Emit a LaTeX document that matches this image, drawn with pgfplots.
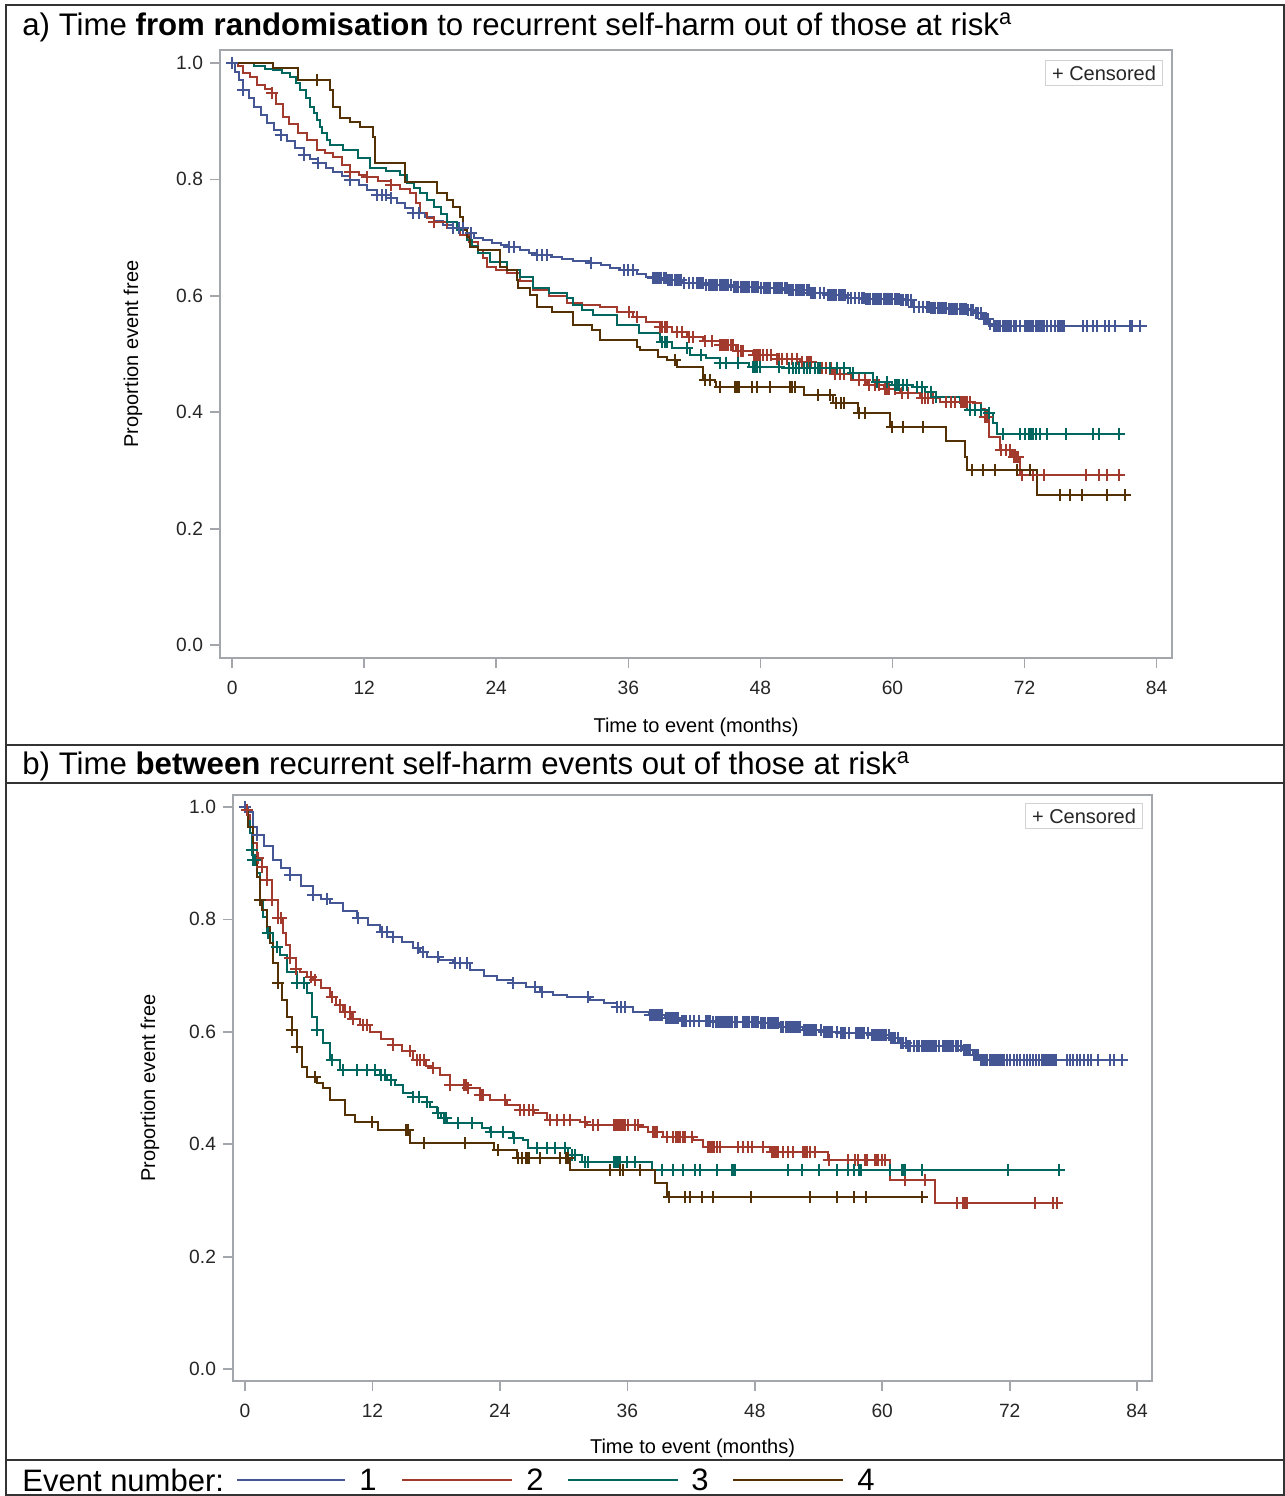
\documentclass[border=0pt]{standalone}
\usepackage{fontspec}
\setmainfont{Liberation Sans}
\usepackage{pgfplots}
\pgfplotsset{compat=1.18}
\definecolor{c1}{HTML}{445694}
\definecolor{c2}{HTML}{A23A2E}
\definecolor{c3}{HTML}{01665E}
\definecolor{c4}{HTML}{543005}
\definecolor{axgray}{HTML}{A3A6AA}
\pgfplotsset{
  kmaxis/.style={
    scale only axis,
    axis line style={axgray, line width=0.9pt},
    xtick={0,12,24,36,48,60,72,84},
    ytick={0,0.2,0.4,0.6,0.8,1.0},
    tick align=outside, xtick pos=bottom, ytick pos=left,
    major tick length=5pt,
    tick style={axgray, line width=0.8pt},
    xticklabel shift=3pt,
    /pgf/number format/assume math mode=true,
    yticklabel style={/pgf/number format/.cd, fixed, fixed zerofill, precision=1},
    tick label style={font=\fontsize{9.6}{11}\selectfont, text=black!85},
    label style={font=\fontsize{10.6}{12}\selectfont, text=black!85},
    xlabel={Time to event (months)},
    ylabel={Proportion event free},
  },
  km/.style={const plot, line width=1pt, no marks},
  cens/.style={only marks, mark=+, mark size=3pt, mark options={line width=1pt}},
}
\begin{document}
\begin{tikzpicture}
\useasboundingbox (0,0) rectangle (642.5pt,-748pt);
% ---------------- panel a ----------------
\begin{axis}[kmaxis, at={(110pt,-329pt)}, anchor=south west,
  width=476pt, height=304pt,
  xmin=-1.1, xmax=85.4, ymin=-0.022, ymax=1.022,
  every axis y label/.style={at={(axis description cs:-0.0914,0.5)}, rotate=90, anchor=center},
  every axis x label/.style={at={(axis description cs:0.5,-0.1135)}, anchor=center}]
% event 1
\addplot[km, c1] coordinates {(0,1) (0.3,0.985) (0.6,0.97) (1.0,0.954) (1.5,0.94) (2.0,0.925) (2.6,0.91) (3.2,0.897) (3.8,0.885) (4.4,0.876) (5.0,0.865) (5.7,0.853) (6.5,0.842) (7.1,0.835) (7.8,0.828) (8.5,0.82) (9.2,0.812) (10.0,0.805) (10.7,0.799) (11.5,0.79) (12.3,0.781) (13.2,0.773) (14.4,0.768) (15.0,0.76) (15.7,0.75) (16.4,0.742) (17.5,0.735) (18.3,0.728) (19.2,0.722) (20.1,0.716) (21.3,0.708) (22.0,0.7) (22.8,0.695) (23.6,0.69) (24.4,0.687) (25.2,0.684) (26.2,0.678) (27.0,0.673) (27.7,0.67) (29.0,0.666) (30.0,0.663) (31.0,0.66) (32.5,0.656) (33.5,0.652) (34.3,0.648) (35.2,0.644) (36.8,0.638) (37.6,0.633) (38.2,0.631) (39.5,0.627) (41.0,0.622) (43.0,0.619) (45.5,0.615) (48.0,0.614) (49.1,0.613) (50.5,0.61) (52.5,0.605) (54.0,0.601) (55.9,0.596) (57.5,0.595) (59.5,0.594) (60.7,0.593) (61.9,0.581) (63.5,0.579) (65.0,0.578) (66.8,0.576) (67.5,0.57) (68.2,0.56) (68.8,0.552) (69.1,0.548) (83.1,0.548)};
\addplot[cens, c1] coordinates {(0,1) (1.0,0.954) (4.4,0.876) (6.5,0.842) (7.8,0.828) (10.7,0.799) (13.2,0.773) (13.6,0.773) (14.0,0.773) (14.4,0.768) (16.4,0.742) (17.0,0.742) (20.1,0.716) (20.6,0.716) (21.0,0.716) (21.7,0.708) (25.2,0.684) (25.6,0.684) (27.7,0.67) (28.2,0.67) (28.6,0.67) (32.6,0.656) (35.6,0.644) (36.0,0.644) (36.4,0.644)
(38.2,0.631) (38.4,0.631) (38.6,0.631) (38.8,0.631) (39.0,0.631) (39.2,0.631) (39.4,0.631)
(39.6,0.627) (39.8,0.627) (40.0,0.627) (40.2,0.627) (40.4,0.627) (40.6,0.627) (40.8,0.627)
(41.1,0.622) (41.5,0.622) (41.9,0.622) (42.2,0.622) (42.4,0.622) (42.6,0.622) (42.8,0.622)
(43.1,0.619) (43.3,0.619) (43.5,0.619) (43.7,0.619) (43.9,0.619) (44.1,0.619) (44.3,0.619) (44.5,0.619) (44.7,0.619) (44.9,0.619) (45.1,0.619) (45.3,0.619)
(45.6,0.615) (45.8,0.615) (46.0,0.615) (46.2,0.615) (46.4,0.615) (46.6,0.615) (46.8,0.615) (47.0,0.615) (47.2,0.615) (47.4,0.615) (47.6,0.615) (47.8,0.615)
(48.1,0.614) (48.3,0.614) (48.5,0.614) (48.7,0.614) (48.9,0.614)
(49.2,0.613) (49.4,0.613) (49.6,0.613) (49.8,0.613) (50.0,0.613) (50.2,0.613) (50.4,0.613)
(50.6,0.61) (50.8,0.61) (51.0,0.61) (51.2,0.61) (51.4,0.61) (51.6,0.61) (51.8,0.61) (52.0,0.61) (52.2,0.61) (52.4,0.61)
(52.6,0.605) (52.8,0.605) (53.0,0.605) (53.4,0.605) (53.8,0.605)
(54.1,0.601) (54.3,0.601) (54.5,0.601) (54.7,0.601) (54.9,0.601) (55.1,0.601) (55.3,0.601) (55.5,0.601) (55.7,0.601)
(56.0,0.596) (56.2,0.596) (56.6,0.596) (57.0,0.596) (57.2,0.596) (57.4,0.596)
(57.6,0.595) (57.8,0.595) (58.0,0.595) (58.2,0.595) (58.4,0.595) (58.6,0.595) (58.8,0.595) (59.0,0.595) (59.2,0.595) (59.4,0.595)
(59.6,0.594) (59.8,0.594) (60.0,0.594) (60.2,0.594) (60.4,0.594) (60.6,0.594)
(60.8,0.593) (61.0,0.593) (61.2,0.593) (61.4,0.593) (61.7,0.593)
(62.0,0.581) (62.4,0.581) (62.8,0.581) (63.1,0.581) (63.3,0.581)
(63.5,0.579) (63.7,0.579) (63.9,0.579) (64.1,0.579) (64.3,0.579) (64.5,0.579) (64.7,0.579) (64.9,0.579)
(65.1,0.578) (65.3,0.578) (65.5,0.578) (65.7,0.578) (65.9,0.578) (66.1,0.578) (66.3,0.578) (66.5,0.578) (66.7,0.578)
(66.9,0.576) (67.1,0.576) (67.3,0.576) (67.6,0.57) (67.8,0.57) (68.0,0.57) (68.3,0.56) (68.5,0.56) (68.7,0.56) (68.9,0.552)
(69.2,0.548) (69.4,0.548) (69.6,0.548) (69.8,0.548) (70.0,0.548) (70.2,0.548) (70.4,0.548) (70.6,0.548) (70.8,0.548) (71.0,0.548) (71.2,0.548) (71.6,0.548) (72.0,0.548) (72.2,0.548) (72.4,0.548) (72.6,0.548) (72.8,0.548) (73.0,0.548) (73.2,0.548) (73.4,0.548) (73.6,0.548) (73.8,0.548) (74.0,0.548) (74.4,0.548) (74.8,0.548) (75.0,0.548) (75.2,0.548) (75.4,0.548) (75.6,0.548) (77.3,0.548) (77.7,0.548) (78.2,0.548) (78.6,0.548) (79.3,0.548) (79.7,0.548) (80.2,0.548) (81.6,0.548) (81.8,0.548) (82.5,0.548)};
% event 2
\addplot[km, c2] coordinates {(0,1) (0.5,0.995) (1.0,0.983) (1.6,0.975) (2.3,0.962) (3.0,0.955) (3.6,0.948) (4.0,0.93) (4.6,0.907) (5.2,0.895) (6.0,0.88) (6.8,0.868) (7.7,0.851) (8.4,0.845) (9.2,0.838) (10.0,0.825) (10.7,0.813) (11.5,0.808) (12.3,0.804) (13.3,0.797) (14.4,0.79) (15.3,0.784) (16.2,0.777) (16.7,0.76) (17.1,0.742) (17.7,0.734) (18.3,0.727) (19.5,0.716) (20.7,0.704) (21.5,0.692) (22.3,0.679) (22.8,0.665) (23.2,0.65) (24.0,0.645) (25.0,0.639) (26.2,0.625) (27.3,0.61) (28.8,0.6) (30.4,0.588) (31.8,0.585) (33.4,0.581) (35.0,0.572) (36.4,0.564) (37.6,0.555) (38.9,0.546) (40.0,0.537) (41.3,0.529) (42.8,0.522) (44.3,0.515) (45.8,0.506) (47.3,0.498) (49.5,0.492) (51.6,0.486) (53.0,0.476) (54.6,0.466) (56.2,0.456) (57.7,0.447) (59.2,0.44) (60.7,0.433) (62.5,0.425) (64.3,0.418) (67.3,0.416) (68.0,0.405) (68.4,0.392) (68.8,0.357) (69.8,0.335) (70.9,0.323) (71.6,0.292) (80.9,0.292)};
\addplot[cens, c2] coordinates {(3.6,0.948) (10.7,0.813) (12.3,0.804) (14.4,0.79) (18.3,0.727) (36.1,0.572) (36.8,0.564) (38.9,0.546) (39.1,0.546) (39.3,0.546) (39.5,0.546) (40.4,0.537) (40.9,0.537) (41.5,0.529) (41.9,0.529) (43.0,0.522) (43.6,0.522) (44.3,0.515) (44.5,0.515) (44.7,0.515) (44.9,0.515) (45.1,0.515) (45.3,0.515) (45.5,0.515) (46.0,0.506) (46.2,0.506) (46.4,0.506) (47.4,0.498) (47.6,0.498) (47.8,0.498) (48.0,0.498) (48.2,0.498) (48.6,0.498) (49.0,0.498) (49.5,0.492) (49.7,0.492) (50.0,0.492) (50.4,0.492) (50.9,0.492) (51.3,0.492) (51.8,0.486) (52.2,0.486) (52.4,0.486) (52.6,0.486) (53.2,0.476) (53.4,0.476) (53.6,0.476) (54.0,0.476) (54.4,0.476) (54.8,0.466) (55.2,0.466) (55.6,0.466) (57.0,0.456) (57.5,0.456) (57.9,0.447) (58.4,0.447) (58.8,0.447) (59.3,0.44) (59.5,0.44) (59.7,0.44) (60.2,0.44) (60.9,0.433) (61.4,0.433) (62.7,0.425) (63.0,0.425) (63.2,0.425) (63.7,0.425) (64.9,0.418) (65.3,0.418) (65.7,0.418) (66.2,0.418) (66.4,0.418) (66.6,0.418) (66.8,0.418) (67.0,0.418) (68.4,0.392) (68.6,0.392) (69.9,0.335) (70.3,0.335) (70.7,0.335) (71.0,0.323) (71.2,0.323) (71.4,0.323) (71.8,0.292) (72.8,0.292) (73.8,0.292) (77.6,0.292) (78.8,0.292) (79.5,0.292) (80.6,0.292)};
% event 3
\addplot[km, c3] coordinates {(0,1) (2.0,0.994) (3.0,0.99) (3.7,0.988) (4.5,0.982) (5.3,0.976) (5.8,0.965) (6.2,0.954) (6.7,0.94) (7.1,0.924) (7.4,0.913) (7.7,0.902) (8.0,0.89) (8.2,0.88) (8.6,0.868) (8.9,0.859) (10.1,0.851) (11.4,0.837) (12.5,0.82) (14.0,0.814) (15.3,0.808) (15.9,0.794) (16.5,0.785) (17.1,0.777) (17.7,0.765) (18.3,0.753) (19.0,0.74) (19.5,0.727) (20.4,0.713) (21.3,0.696) (21.8,0.685) (22.3,0.674) (23.4,0.658) (25.0,0.644) (26.2,0.632) (27.3,0.613) (28.8,0.604) (30.4,0.596) (31.0,0.585) (31.8,0.576) (32.8,0.567) (35.0,0.55) (37.0,0.536) (38.9,0.521) (40.0,0.51) (41.6,0.498) (43.1,0.493) (44.3,0.485) (47.0,0.478) (50.0,0.476) (53.5,0.476) (56.1,0.467) (58.2,0.452) (60.0,0.447) (61.9,0.443) (63.0,0.435) (64.0,0.426) (66.1,0.416) (66.8,0.404) (68.6,0.399) (69.1,0.381) (69.5,0.363) (80.9,0.363)};
\addplot[cens, c3] coordinates {(39.1,0.521) (39.3,0.521) (39.5,0.521) (41.3,0.51) (42.6,0.498) (44.3,0.485) (44.9,0.485) (46.0,0.485) (47.3,0.478) (47.5,0.478) (47.7,0.478) (48.0,0.478) (49.7,0.478) (50.6,0.476) (51.0,0.476) (51.2,0.476) (51.5,0.476) (52.0,0.476) (52.2,0.476) (52.5,0.476) (53.0,0.476) (53.2,0.476) (53.4,0.476) (54.3,0.476) (55.0,0.476) (55.6,0.476) (56.4,0.467) (58.6,0.452) (59.5,0.452) (60.2,0.447) (60.4,0.447) (60.6,0.447) (61.0,0.447) (61.3,0.447) (62.2,0.443) (62.7,0.443) (63.5,0.435) (64.0,0.426) (67.0,0.404) (67.5,0.404) (68.0,0.404) (68.8,0.399) (70.0,0.363) (71.6,0.363) (72.0,0.363) (72.4,0.363) (72.6,0.363) (72.8,0.363) (73.0,0.363) (73.4,0.363) (74.0,0.363) (75.8,0.363) (78.2,0.363) (78.8,0.363) (80.6,0.363)};
% event 4
\addplot[km, c4] coordinates {(0,1) (3.7,0.991) (6.0,0.971) (8.9,0.954) (9.2,0.924) (9.8,0.906) (10.7,0.899) (11.6,0.89) (12.8,0.873) (13.0,0.828) (15.7,0.796) (18.6,0.777) (19.5,0.765) (20.1,0.753) (20.7,0.735) (21.0,0.713) (21.3,0.701) (21.6,0.684) (22.3,0.679) (24.3,0.65) (25.0,0.644) (25.9,0.627) (26.0,0.613) (27.1,0.601) (27.7,0.581) (29.1,0.572) (31.0,0.55) (32.7,0.541) (33.4,0.524) (36.8,0.512) (37.1,0.507) (38.7,0.495) (39.5,0.49) (40.4,0.478) (42.8,0.455) (43.9,0.452) (44.0,0.443) (52.0,0.43) (54.6,0.416) (56.9,0.399) (59.8,0.375) (64.9,0.351) (66.6,0.323) (66.8,0.301) (73.1,0.258) (81.4,0.258)};
\addplot[cens, c4] coordinates {(7.7,0.971) (40.2,0.49) (43.0,0.455) (43.4,0.455) (44.3,0.443) (45.7,0.443) (45.8,0.443) (45.9,0.443) (46.0,0.443) (46.1,0.443) (47.2,0.443) (47.7,0.443) (48.9,0.443) (50.7,0.443) (50.9,0.443) (51.1,0.443) (53.2,0.43) (54.3,0.43) (54.9,0.416) (55.3,0.416) (55.6,0.416) (57.0,0.399) (57.5,0.399) (60.0,0.375) (61.0,0.375) (62.8,0.375) (67.2,0.301) (68.2,0.301) (69.3,0.301) (71.3,0.301) (72.5,0.301) (75.2,0.258) (76.1,0.258) (77.2,0.258) (79.5,0.258) (81.1,0.258)};
\node[draw=gray!35, fill=white, anchor=north east, inner xsep=3.3pt, inner ysep=2.6pt, font=\fontsize{10}{12}\selectfont, text=black!85]
  at ([xshift=-4.5pt, yshift=-5pt]rel axis cs:1,1) {+ Censored};
\end{axis}
% ---------------- panel b ----------------
\begin{axis}[kmaxis, at={(116.5pt,-690.5pt)}, anchor=south west,
  width=459.5pt, height=293pt,
  xmin=-1.13, xmax=85.4, ymin=-0.021, ymax=1.021,
  every axis y label/.style={at={(axis description cs:-0.0903,0.5)}, rotate=90, anchor=center},
  every axis x label/.style={at={(axis description cs:0.5,-0.1143)}, anchor=center}]
% event 1
\addplot[km, c1] coordinates {(0,1) (0.3,0.99) (0.8,0.964) (1.1,0.95) (1.8,0.93) (2.6,0.906) (3.4,0.892) (4.2,0.879) (5.3,0.86) (6.4,0.843) (7.2,0.836) (8.0,0.829) (9.2,0.815) (10.5,0.802) (11.6,0.79) (12.7,0.778) (13.9,0.769) (14.8,0.759) (15.8,0.749) (16.5,0.741) (17.1,0.733) (18.3,0.727) (19.6,0.722) (21.2,0.71) (22.5,0.7) (23.7,0.692) (25.2,0.687) (26.5,0.679) (27.8,0.671) (29.0,0.666) (30.3,0.662) (32.5,0.657) (33.8,0.651) (35.0,0.644) (36.5,0.636) (38.0,0.63) (39.5,0.624) (41.0,0.62) (44.0,0.618) (48.5,0.616) (50.4,0.609) (52.5,0.603) (54.4,0.6) (56.0,0.598) (58.9,0.594) (60.7,0.589) (61.7,0.58) (62.3,0.575) (67.6,0.568) (68.5,0.559) (69.2,0.55) (83.0,0.55)};
\addplot[cens, c1] coordinates {(0,1) (1.1,0.95) (4.2,0.879) (6.4,0.843) (7.7,0.836) (10.6,0.802) (12.9,0.778) (13.4,0.778) (13.9,0.769) (16.3,0.749) (16.8,0.741) (18.2,0.733) (19.8,0.722) (20.2,0.722) (20.9,0.722) (25.2,0.687) (27.3,0.679) (28.0,0.671) (32.3,0.662) (35.0,0.644) (35.4,0.644) (35.8,0.644)
(38.1,0.63) (38.3,0.63) (38.5,0.63) (38.7,0.63) (38.9,0.63) (39.1,0.63) (39.3,0.63)
(39.6,0.624) (39.8,0.624) (40.0,0.624) (40.2,0.624) (40.4,0.624) (40.6,0.624) (40.8,0.624)
(41.1,0.62) (41.3,0.62) (41.5,0.62) (41.9,0.62) (42.3,0.62) (42.7,0.62) (43.4,0.62) (43.6,0.62) (43.8,0.62)
(44.1,0.618) (44.3,0.618) (44.5,0.618) (44.7,0.618) (44.9,0.618) (45.1,0.618) (45.3,0.618) (45.5,0.618) (45.7,0.618) (45.9,0.618) (46.1,0.618) (46.3,0.618) (46.9,0.618) (47.1,0.618) (47.3,0.618) (47.5,0.618) (47.7,0.618) (47.9,0.618) (48.1,0.618) (48.3,0.618)
(48.6,0.616) (48.8,0.616) (49.0,0.616) (49.2,0.616) (49.4,0.616) (49.6,0.616) (49.8,0.616) (50.0,0.616) (50.2,0.616)
(50.5,0.609) (50.7,0.609) (50.9,0.609) (51.1,0.609) (51.3,0.609) (51.5,0.609) (51.7,0.609) (51.9,0.609) (52.1,0.609) (52.3,0.609)
(52.6,0.603) (52.8,0.603) (53.0,0.603) (53.2,0.603) (53.4,0.603) (53.6,0.603) (53.8,0.603) (54.2,0.603)
(54.5,0.6) (54.7,0.6) (54.9,0.6) (55.1,0.6) (55.3,0.6) (55.7,0.6)
(56.1,0.598) (56.3,0.598) (56.5,0.598) (56.9,0.598) (57.5,0.598) (57.7,0.598) (57.9,0.598) (58.1,0.598) (58.3,0.598) (58.7,0.598)
(59.0,0.594) (59.2,0.594) (59.4,0.594) (59.6,0.594) (59.8,0.594) (60.0,0.594) (60.2,0.594) (60.4,0.594) (60.6,0.594)
(60.8,0.589) (61.0,0.589) (61.2,0.589) (61.5,0.589) (61.8,0.58) (62.0,0.58) (62.2,0.58)
(62.4,0.575) (62.6,0.575) (63.0,0.575) (63.3,0.575) (63.5,0.575) (63.7,0.575) (63.9,0.575) (64.1,0.575) (64.3,0.575) (64.5,0.575) (64.7,0.575) (64.9,0.575) (65.1,0.575) (65.3,0.575) (65.7,0.575) (65.9,0.575) (66.1,0.575) (66.3,0.575) (66.5,0.575) (66.7,0.575) (66.9,0.575) (67.1,0.575) (67.4,0.575)
(67.7,0.568) (67.9,0.568) (68.1,0.568) (68.3,0.568) (68.6,0.559) (68.8,0.559) (69.0,0.559)
(69.3,0.55) (69.5,0.55) (69.7,0.55) (69.9,0.55) (70.1,0.55) (70.3,0.55) (70.5,0.55) (70.7,0.55) (70.9,0.55) (71.1,0.55) (71.3,0.55) (71.5,0.55) (71.7,0.55) (72.0,0.55) (72.4,0.55) (72.7,0.55) (73.0,0.55) (73.3,0.55) (73.6,0.55) (73.9,0.55) (74.2,0.55) (74.5,0.55) (74.8,0.55) (75.0,0.55) (75.2,0.55) (75.4,0.55) (75.6,0.55) (75.8,0.55) (76.0,0.55) (76.2,0.55) (76.4,0.55) (77.4,0.55) (77.7,0.55) (78.0,0.55) (78.3,0.55) (78.6,0.55) (79.0,0.55) (79.4,0.55) (79.7,0.55) (80.3,0.55) (81.4,0.55) (81.8,0.55) (82.6,0.55)};
% event 2
\addplot[km, c2] coordinates {(0,0.995) (0.3,0.985) (0.5,0.964) (0.8,0.935) (1.1,0.909) (1.6,0.893) (2.1,0.87) (2.5,0.835) (3.1,0.802) (3.6,0.776) (3.9,0.755) (4.2,0.731) (4.8,0.712) (5.2,0.706) (5.8,0.698) (6.4,0.692) (7.2,0.677) (8.0,0.662) (8.6,0.648) (9.2,0.635) (10.0,0.622) (10.8,0.612) (11.8,0.6) (12.8,0.588) (13.9,0.576) (14.8,0.566) (15.8,0.55) (17.0,0.54) (17.7,0.535) (18.4,0.523) (19.3,0.505) (20.9,0.5) (22.1,0.488) (23.1,0.479) (24.7,0.47) (25.9,0.461) (27.2,0.455) (28.4,0.443) (31.5,0.44) (32.2,0.434) (37.2,0.431) (37.9,0.422) (39.4,0.413) (42.2,0.407) (43.1,0.395) (49.4,0.386) (54.9,0.372) (60.7,0.336) (65.0,0.295) (76.9,0.295)};
\addplot[cens, c2] coordinates {(0.2,0.995) (1.2,0.909) (1.6,0.893) (2.1,0.87) (2.5,0.835) (3.1,0.802) (3.4,0.802) (4.2,0.731) (4.8,0.712) (6.2,0.698) (6.6,0.692) (8.2,0.662) (8.9,0.648) (9.4,0.635) (9.9,0.635) (10.2,0.622) (11.1,0.612) (11.5,0.612) (13.9,0.576) (15.5,0.566) (16.2,0.55) (16.5,0.55) (16.9,0.55) (17.7,0.535) (19.3,0.505) (20.6,0.505) (20.7,0.505) (20.8,0.505) (21.0,0.5) (22.1,0.488) (22.25,0.488) (22.4,0.488) (24.5,0.479) (25.9,0.461) (26.3,0.461) (26.7,0.461) (27.1,0.461) (28.7,0.443) (29.4,0.443) (30.0,0.443) (30.6,0.443) (32.0,0.44) (32.8,0.434) (33.2,0.434) (34.7,0.434) (34.85,0.434) (35.0,0.434) (35.2,0.434) (35.4,0.434) (35.6,0.434) (35.8,0.434) (36.1,0.434) (36.7,0.434) (37.0,0.434) (38.4,0.422) (38.55,0.422) (38.7,0.422) (38.8,0.422) (39.7,0.413) (40.3,0.413) (40.6,0.413) (40.8,0.413) (41.0,0.413) (41.2,0.413) (41.4,0.413) (42.1,0.413) (43.6,0.395) (43.8,0.395) (44.0,0.395) (44.2,0.395) (44.4,0.395) (44.7,0.395) (46.4,0.395) (46.9,0.395) (47.4,0.395) (47.7,0.395) (48.8,0.395) (49.6,0.386) (49.8,0.386) (50.0,0.386) (50.2,0.386) (50.7,0.386) (51.1,0.386) (51.6,0.386) (52.5,0.386) (52.7,0.386) (52.9,0.386) (53.2,0.386) (53.7,0.386) (55.0,0.372) (56.8,0.372) (57.4,0.372) (57.7,0.372) (58.4,0.372) (58.5,0.372) (58.6,0.372) (59.3,0.372) (59.45,0.372) (59.6,0.372) (60.0,0.372) (60.3,0.372) (62.1,0.336) (64.0,0.336) (67.0,0.295) (67.6,0.295) (67.8,0.295) (68.0,0.295) (74.4,0.295) (76.1,0.295) (76.5,0.295)};
% event 3
\addplot[km, c3] coordinates {(0,0.995) (0.3,0.975) (0.5,0.954) (0.7,0.923) (0.8,0.906) (1.1,0.883) (1.4,0.835) (1.7,0.804) (2.1,0.776) (2.6,0.751) (3.3,0.737) (4.0,0.706) (4.9,0.687) (5.8,0.669) (6.3,0.626) (6.8,0.603) (7.3,0.58) (8.0,0.55) (8.9,0.532) (12.7,0.523) (13.4,0.514) (14.1,0.505) (14.9,0.491) (15.8,0.484) (17.1,0.475) (17.4,0.466) (18.1,0.455) (18.5,0.447) (19.0,0.438) (22.3,0.429) (23.1,0.422) (25.2,0.411) (26.2,0.407) (26.6,0.393) (30.4,0.381) (31.7,0.368) (38.3,0.354) (77.0,0.354)};
\addplot[cens, c3] coordinates {(0.7,0.923) (0.8,0.906) (0.9,0.906) (1.4,0.835) (2.2,0.776) (3.0,0.751) (4.9,0.687) (5.6,0.687) (6.8,0.603) (8.2,0.55) (9.2,0.532) (10.5,0.532) (11.5,0.532) (12.2,0.532) (12.8,0.523) (13.2,0.523) (13.7,0.514) (15.8,0.484) (16.4,0.484) (17.1,0.475) (18.2,0.455) (18.7,0.447) (18.9,0.447) (20.1,0.438) (21.4,0.438) (23.2,0.422) (24.3,0.422) (25.3,0.411) (27.5,0.393) (28.4,0.393) (29.2,0.393) (30.1,0.393) (30.8,0.381) (31.1,0.381) (32.0,0.368) (32.3,0.368) (34.7,0.368) (34.9,0.368) (35.1,0.368) (35.3,0.368) (36.0,0.368) (36.7,0.368) (39.3,0.354) (40.3,0.354) (41.2,0.354) (42.4,0.354) (42.8,0.354) (44.4,0.354) (45.9,0.354) (46.0,0.354) (46.1,0.354) (51.1,0.354) (52.4,0.354) (54.0,0.354) (55.7,0.354) (56.8,0.354) (57.3,0.354) (57.8,0.354) (57.9,0.354) (58.0,0.354) (60.7,0.354) (61.9,0.354) (62.0,0.354) (62.1,0.354) (63.7,0.354) (71.8,0.354) (76.6,0.354)};
% event 4
\addplot[km, c4] coordinates {(0,0.99) (0.3,0.964) (0.8,0.911) (1.1,0.875) (1.4,0.835) (1.6,0.817) (2.1,0.786) (2.4,0.758) (2.6,0.722) (3.1,0.687) (3.5,0.657) (4.0,0.626) (4.4,0.603) (4.9,0.573) (5.4,0.537) (5.8,0.52) (6.8,0.509) (7.3,0.5) (8.0,0.479) (9.4,0.452) (10.4,0.44) (12.5,0.425) (15.5,0.402) (23.4,0.39) (25.6,0.375) (30.6,0.354) (38.6,0.331) (39.7,0.306) (64.0,0.306)};
\addplot[cens, c4] coordinates {(1.4,0.835) (3.1,0.687) (4.4,0.603) (4.9,0.573) (6.6,0.52) (12.0,0.44) (15.15,0.425) (15.25,0.425) (15.35,0.425) (16.9,0.402) (20.7,0.402) (23.8,0.39) (25.7,0.375) (26.1,0.375) (26.5,0.375) (26.6,0.375) (26.7,0.375) (27.8,0.375) (29.7,0.375) (30.2,0.375) (30.3,0.375) (30.4,0.375) (34.4,0.354) (35.3,0.354) (35.6,0.354) (37.2,0.354) (39.9,0.306) (41.4,0.306) (41.9,0.306) (43.0,0.306) (44.1,0.306) (47.6,0.306) (53.2,0.306) (55.7,0.306) (57.3,0.306) (58.5,0.306) (63.7,0.306)};
\node[draw=gray!35, fill=white, anchor=north east, inner xsep=3.3pt, inner ysep=2.6pt, font=\fontsize{10}{12}\selectfont, text=black!85]
  at ([xshift=-4.5pt, yshift=-4pt]rel axis cs:1,1) {+ Censored};
\end{axis}
% ---------------- frame, titles, legend ----------------
\begin{scope}[x=0.5pt, y=-0.5pt]
\draw[black!80, line width=1pt] (6,5) rectangle (1284,1495);
\draw[black!80, line width=1pt] (6,745) -- (1284,745);
\draw[black!80, line width=1pt] (6,783) -- (1284,783);
\draw[black!80, line width=1pt] (6,1460) -- (1284,1460);
\node[anchor=west, inner sep=0pt, font=\fontsize{15.6}{17}\selectfont] at (22,27)
  {a) Time \textbf{from randomisation} to recurrent self-harm out of those at risk\textsuperscript{a}};
\node[anchor=west, inner sep=0pt, font=\fontsize{15.6}{17}\selectfont] at (22,766)
  {b) Time \textbf{between} recurrent self-harm events out of those at risk\textsuperscript{a}};
\node[anchor=west, inner sep=0pt, font=\fontsize{15.5}{17}\selectfont] at (22,1480) {Event number:};
\draw[c1, line width=1.2pt] (237,1480) -- (345,1480);
\draw[c2, line width=1.2pt] (402,1480) -- (512,1480);
\draw[c3, line width=1.2pt] (568,1480) -- (678,1480);
\draw[c4, line width=1.2pt] (733,1480) -- (843,1480);
\node[font=\fontsize{15.5}{17}\selectfont] at (368,1480) {1};
\node[font=\fontsize{15.5}{17}\selectfont] at (535,1480) {2};
\node[font=\fontsize{15.5}{17}\selectfont] at (700,1480) {3};
\node[font=\fontsize{15.5}{17}\selectfont] at (866,1480) {4};
\end{scope}
\end{tikzpicture}
\end{document}
